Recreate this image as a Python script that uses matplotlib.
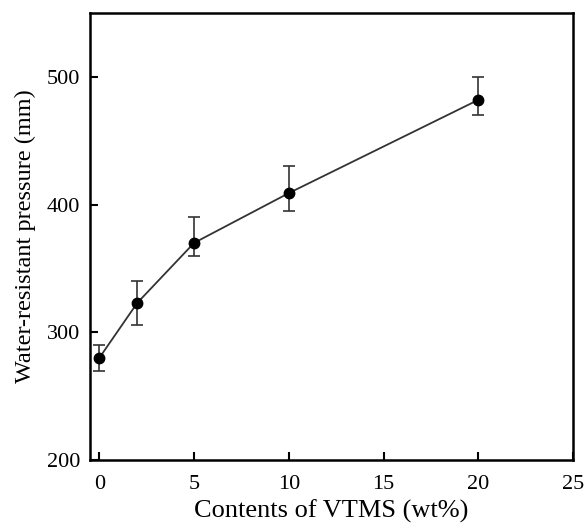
import matplotlib
matplotlib.use('Agg')
import matplotlib.pyplot as plt

# data
vtms = [0, 2, 5, 10, 20]
pressure = [280, 323, 370, 409, 482]
err_low = [10, 17, 10, 14, 12]
err_high = [10, 17, 20, 21, 18]

plt.rcParams['font.family'] = 'Liberation Serif'

fig = plt.figure(figsize=(5.84, 5.25), dpi=100)
ax = fig.add_axes([0.154, 0.124, 0.827, 0.851])

ax.errorbar(vtms, pressure, yerr=[err_low, err_high], fmt='none',
            ecolor='#333333', elinewidth=1.2, capsize=4.5, capthick=1.2)
ax.plot(vtms, pressure, '-', color='#333333', lw=1.3)
ax.plot(vtms, pressure, 'o', color='black', ms=7.5)

ax.set_xlim(-0.5, 25)
ax.set_ylim(200, 550)
ax.set_xticks([0, 5, 10, 15, 20, 25])
ax.set_yticks([200, 300, 400, 500])
ax.tick_params(direction='in', length=6, width=1.5, labelsize=16)
ax.tick_params(axis='x', pad=11)
ax.tick_params(axis='y', pad=7)
for s in ax.spines.values():
    s.set_linewidth(1.8)

ax.set_xlabel('Contents of VTMS (wt%)', fontsize=19, labelpad=4)
ax.set_ylabel('Water-resistant pressure (mm)', fontsize=17.5, labelpad=8)

fig.savefig('out.png', dpi=100)
